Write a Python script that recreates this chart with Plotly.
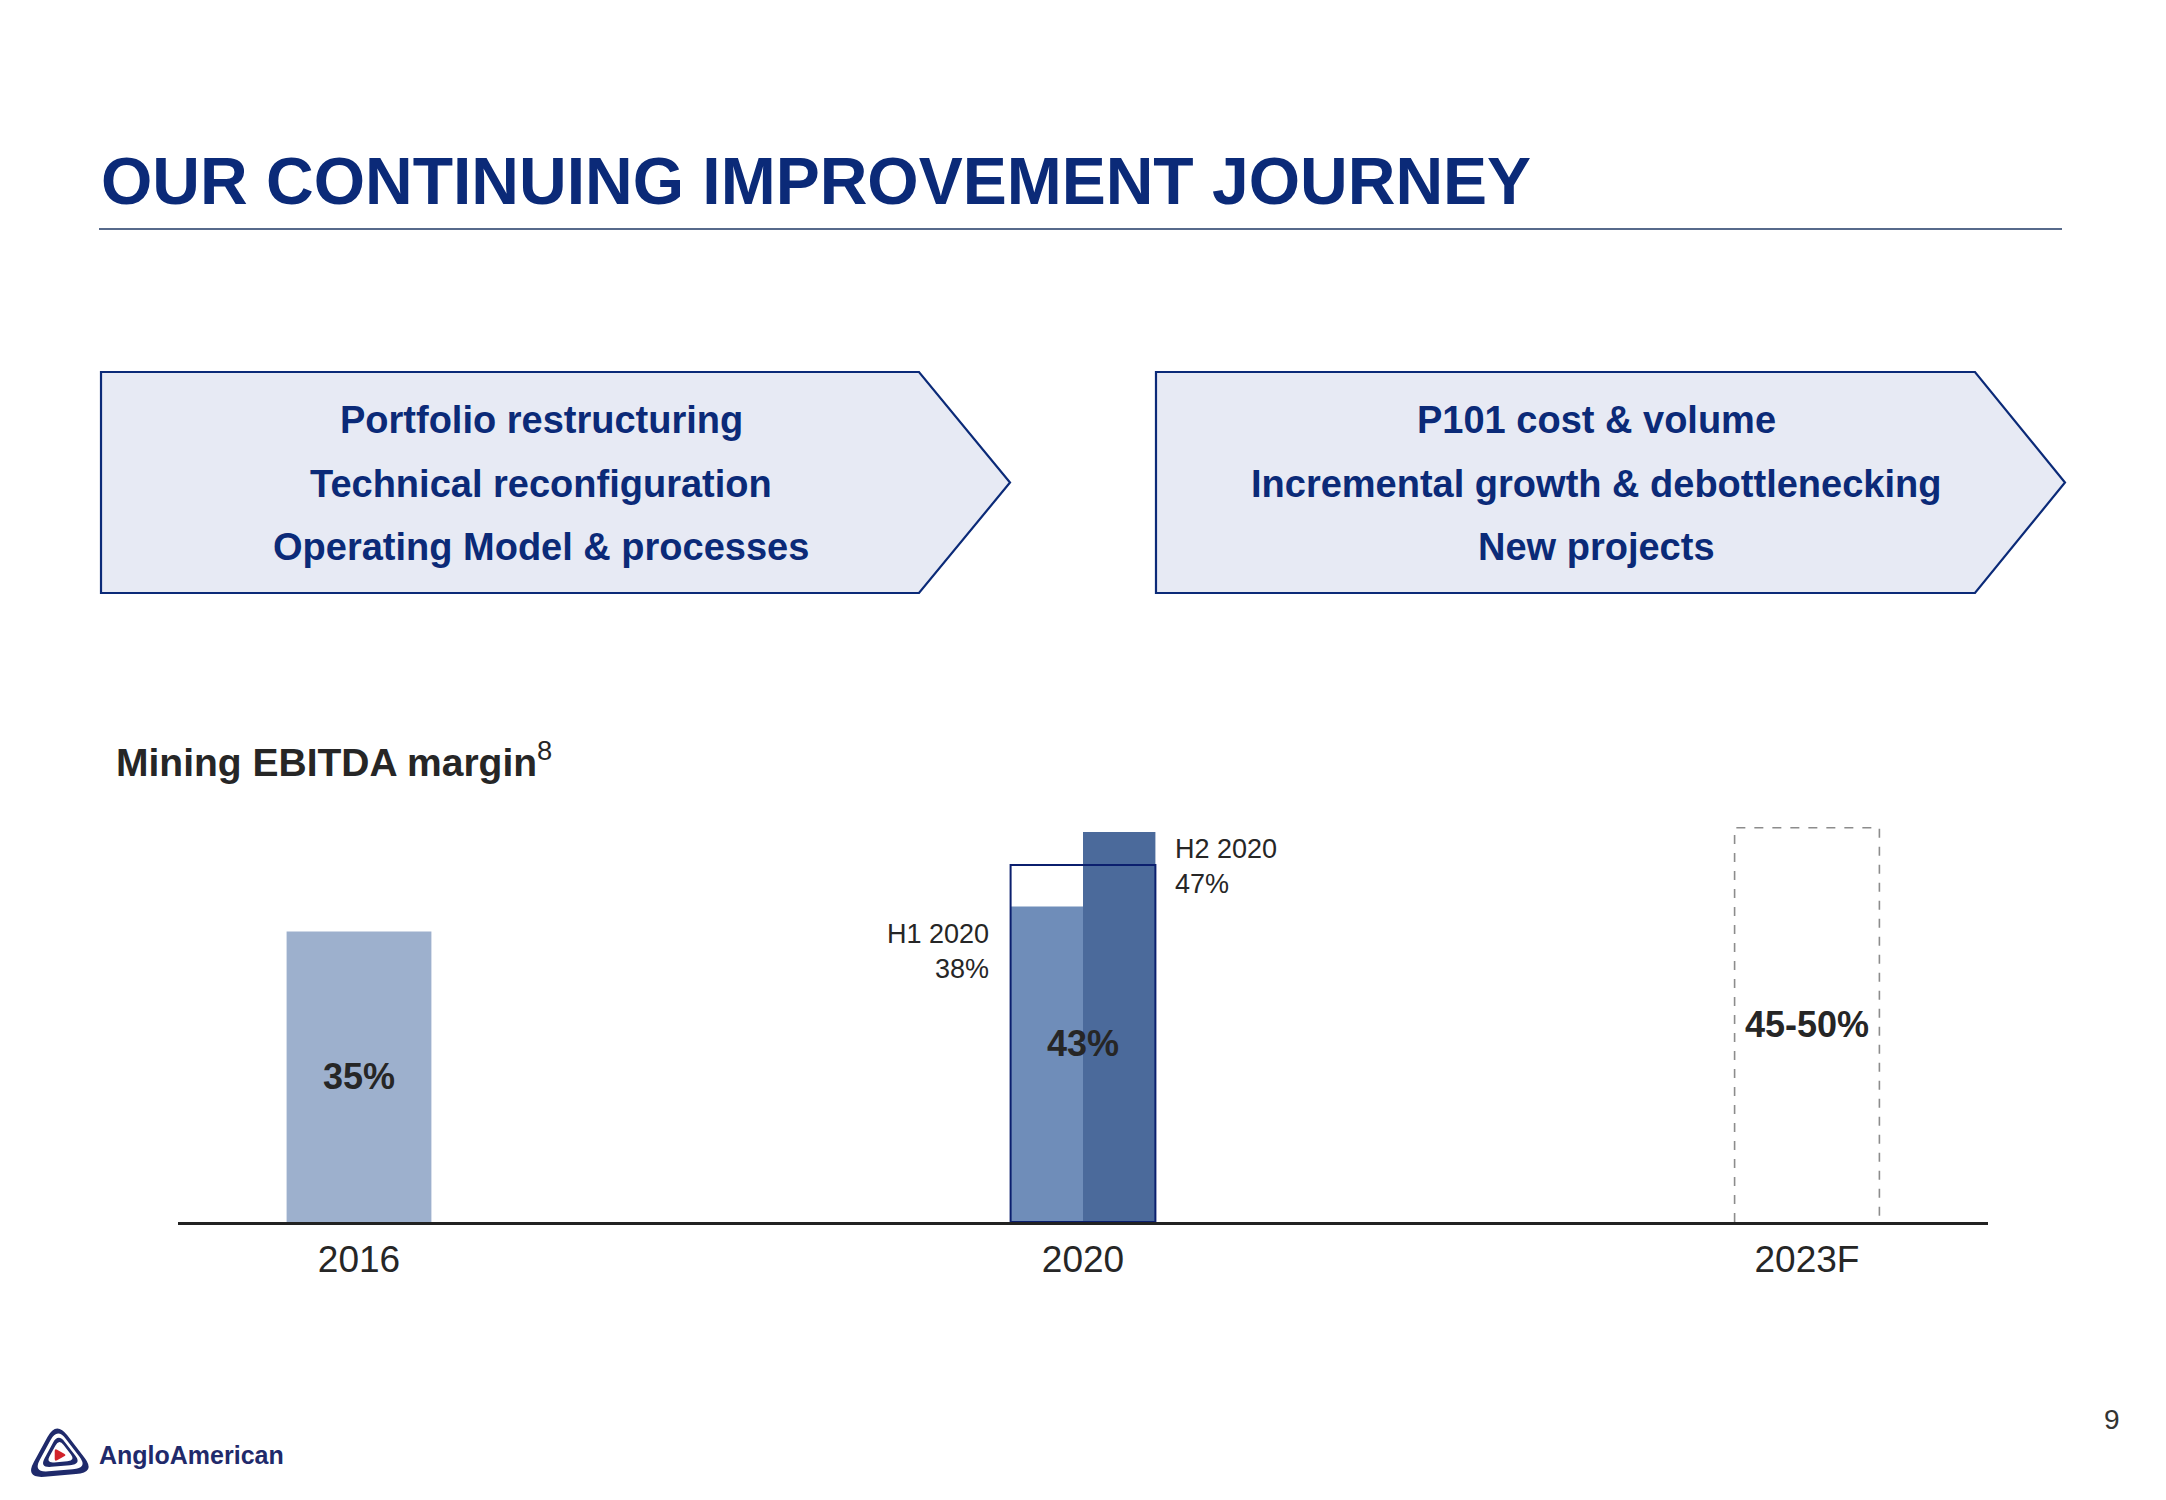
import plotly.graph_objects as go

# ---------------- data ----------------
categories = ["2016", "2020", "2023F"]
margin_2016 = 35
h1_2020 = 38
h2_2020 = 47
fy_2020 = 43
target_2023 = [45, 50]
h1_label = "H1 2020"
h2_label = "H2 2020"
left_lines = ["Portfolio restructuring", "Technical reconfiguration", "Operating Model & processes"]
right_lines = ["P101 cost & volume", "Incremental growth & debottlenecking", "New projects"]
title_text = "OUR CONTINUING IMPROVEMENT JOURNEY"
chart_title = "Mining EBITDA margin"
footnote_ref = "8"
page_number = "9"
logo_text = "AngloAmerican"

# ---------------- styling ----------------
OFF = 8                      # default page margin of the html body
W, H = 2166 - 2 * OFF, 1500 - 2 * OFF
NAVY = "#0B2A78"
DARK = "#262626"
C2016 = "#9DB0CD"
CH1 = "#6F8DB9"
CH2 = "#4B6A9B"
BARW = 0.2
FONT = "Liberation Sans, Arial, sans-serif"


def px(x):
    return (x - OFF) / W


def py(y):
    return 1 - (y - OFF) / H


fig = go.Figure()

x2016, x2020, x2023 = 0, 1, 2

fig.add_trace(go.Bar(x=[x2016], y=[margin_2016], width=BARW, marker=dict(color=C2016, line=dict(width=0)),
                     hoverinfo="skip"))
fig.add_trace(go.Bar(x=[x2020], y=[h1_2020], width=BARW / 2, offset=-BARW / 2,
                     marker=dict(color=CH1, line=dict(width=0)), hoverinfo="skip"))
fig.add_trace(go.Bar(x=[x2020], y=[h2_2020], width=BARW / 2, offset=0,
                     marker=dict(color=CH2, line=dict(width=0)), hoverinfo="skip"))
fig.add_trace(go.Bar(x=[x2020], y=[fy_2020], width=BARW,
                     marker=dict(color="rgba(0,0,0,0)", line=dict(color="#0B1F6E", width=2)),
                     hoverinfo="skip"))

# forecast range: dashed open box drawn to the midpoint of the range
mid_2023 = sum(target_2023) / 2
fig.add_trace(go.Scatter(
    x=[x2023 - BARW / 2, x2023 - BARW / 2, x2023 + BARW / 2, x2023 + BARW / 2],
    y=[0, mid_2023, mid_2023, 0], mode="lines",
    line=dict(color="#8C8C8C", width=1.6, dash="dash"), hoverinfo="skip"))

annotations = []
# values inside bars
for xv, val, txt in [(x2016, margin_2016, f"{margin_2016}%"),
                     (x2020, fy_2020, f"{fy_2020}%"),
                     (x2023, mid_2023, f"{target_2023[0]}-{target_2023[1]}%")]:
    annotations.append(dict(x=xv, y=val / 2, xref="x", yref="y", text=f"<b>{txt}</b>", showarrow=False,
                            font=dict(family=FONT, size=36, color=DARK), xanchor="center", yanchor="middle"))

annotations.append(dict(x=x2020 - BARW / 2, y=h1_2020, xref="x", yref="y", text=f"{h1_label}<br>{h1_2020}%",
                        showarrow=False, align="right", xanchor="right", yanchor="top", xshift=-20, yshift=-10,
                        font=dict(family=FONT, size=27, color=DARK)))
annotations.append(dict(x=x2020 + BARW / 2, y=h2_2020, xref="x", yref="y", text=f"{h2_label}<br>{h2_2020}%",
                        showarrow=False, align="left", xanchor="left", yanchor="top", xshift=18, yshift=0,
                        font=dict(family=FONT, size=27, color=DARK)))

# title
annotations.append(dict(x=px(99), y=py(181), xref="paper", yref="paper", text=f"<b>{title_text}</b>",
                        showarrow=False, xanchor="left", yanchor="middle",
                        font=dict(family=FONT, size=66, color=NAVY)))
# chart title
annotations.append(dict(x=px(114), y=py(760), xref="paper", yref="paper",
                        text=f"<b>{chart_title}</b><sup>{footnote_ref}</sup>",
                        showarrow=False, xanchor="left", yanchor="middle",
                        font=dict(family=FONT, size=39, color=DARK)))

# chevron texts
for cx, lines in [(541, left_lines), (1596, right_lines)]:
    for i, line in enumerate(lines):
        annotations.append(dict(x=px(cx), y=py(420 + 63.5 * i), xref="paper", yref="paper",
                                text=f"<b>{line}</b>", showarrow=False, xanchor="center", yanchor="middle",
                                font=dict(family=FONT, size=38, color=NAVY)))

# page number
annotations.append(dict(x=px(2112), y=py(1419), xref="paper", yref="paper", text=page_number, showarrow=False,
                        xanchor="center", yanchor="middle", font=dict(family=FONT, size=28, color="#333333")))
# logo text
annotations.append(dict(x=px(97), y=py(1455), xref="paper", yref="paper", text=f"<b>{logo_text}</b>",
                        showarrow=False, xanchor="left", yanchor="middle",
                        font=dict(family=FONT, size=25, color="#1F2A6B")))

shapes = []
# rule under title
shapes.append(dict(type="line", xref="paper", yref="paper", x0=px(99), x1=px(2062), y0=py(229), y1=py(229),
                   line=dict(color="#1F3864", width=1.5)))


def chevron(x0, x1, tip, y0, y1):
    ym = (y0 + y1) / 2
    pts = [(x0, y0), (x1, y0), (tip, ym), (x1, y1), (x0, y1)]
    d = "M " + " L ".join(f"{px(a):.5f},{py(b):.5f}" for a, b in pts) + " Z"
    return dict(type="path", xref="paper", yref="paper", path=d, fillcolor="#E7EAF4",
                line=dict(color=NAVY, width=2.2), layer="below")


shapes.append(chevron(101, 919, 1010, 372, 593))
shapes.append(chevron(1156, 1975, 2065, 372, 593))


def rounded_tri(cx, cy, s, color, verts, r=0.28):
    vs = [(cx + s * a, cy + s * b) for a, b in verts]
    n = len(vs)
    segs = []
    for i in range(n):
        p_prev = vs[i - 1]
        p = vs[i]
        p_next = vs[(i + 1) % n]
        a = (p[0] + (p_prev[0] - p[0]) * r, p[1] + (p_prev[1] - p[1]) * r)
        b = (p[0] + (p_next[0] - p[0]) * r, p[1] + (p_next[1] - p[1]) * r)
        cmd = "M" if i == 0 else "L"
        segs.append(f"{cmd} {px(a[0]):.5f},{py(a[1]):.5f} Q {px(p[0]):.5f},{py(p[1]):.5f} {px(b[0]):.5f},{py(b[1]):.5f}")
    d = " ".join(segs) + " Z"
    return dict(type="path", xref="paper", yref="paper", path=d, fillcolor=color, line=dict(width=0))


tri = [(-4, -26), (29, 17), (-30, 22)]
LS = 1.2
for s, col in [(1.0, "#1F2A6B"), (0.78, "white"), (0.6, "#1F2A6B"), (0.42, "white")]:
    shapes.append(rounded_tri(61, 1452, s * LS, col, tri))
shapes.append(rounded_tri(60, 1455, 0.22 * LS, "#D2232A", [(-20, -25), (25, 0), (-20, 25)], r=0.2))

fig.update_layout(
    width=W, height=H, autosize=False,
    margin=dict(l=0, r=0, t=0, b=0),
    paper_bgcolor="white", plot_bgcolor="rgba(0,0,0,0)",
    barmode="overlay", showlegend=False,
    annotations=annotations, shapes=shapes,
    xaxis=dict(domain=[px(178), px(1988)], range=[-0.25, 2.25], tickmode="array",
               tickvals=[x2016, x2020, x2023], ticktext=categories, showgrid=False, zeroline=False,
               showline=True, linecolor="#222222", linewidth=2.5, ticks="", ticklabelstandoff=3,
               tickfont=dict(family=FONT, size=37, color=DARK), fixedrange=True),
    yaxis=dict(domain=[py(1222), py(807)], range=[0, 50], visible=False, fixedrange=True),
)

fig.write_html("out.html")
